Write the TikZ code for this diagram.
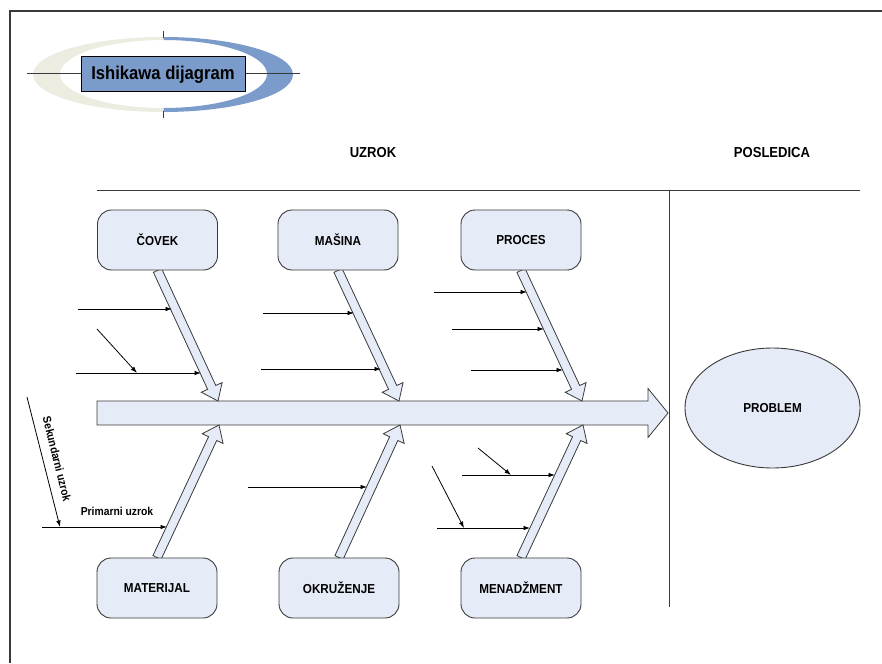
\documentclass[tikz,border=0pt]{standalone}
\usepackage{fontspec}
\setmainfont{Liberation Sans}[FakeStretch=0.9]
\usetikzlibrary{arrows.meta,calc,shapes.geometric,backgrounds}
\definecolor{fillblue}{HTML}{E6ECF7}
\definecolor{logoblue}{HTML}{7B9BCB}
\definecolor{beige}{HTML}{ECECE1}
\definecolor{edge}{HTML}{3A3A3A}
\newcommand\fsz[1]{\fontsize{#1}{#1}\selectfont\bfseries}
\newcommand\fatarrow[5]{%
 \draw[bonestyle] let \p1=(#4), \p2=(#5), \n1={atan2(\y2-\y1,\x2-\x1)} in
 ([shift={({\n1+90}:#1pt)}]\p1)
 -- ([shift={({\n1+90}:#1pt)},shift={({\n1+180}:#3pt)}]\p2)
 -- ([shift={({\n1+90}:#2pt)},shift={({\n1+180}:#3pt)}]\p2)
 -- (\p2)
 -- ([shift={({\n1-90}:#2pt)},shift={({\n1+180}:#3pt)}]\p2)
 -- ([shift={({\n1-90}:#1pt)},shift={({\n1+180}:#3pt)}]\p2)
 -- ([shift={({\n1-90}:#1pt)}]\p1) -- cycle;}
\tikzset{
 bonestyle/.style={draw=edge, fill=fillblue, line width=0.8pt, line join=miter},
 causebox/.style={draw=edge, fill=fillblue, rounded corners=14pt, minimum width=120pt,
   minimum height=60pt, line width=0.9pt, font=\fsz{13}, inner sep=0pt},
 frameline/.style={draw=edge, line width=1.2pt},
 rule/.style={draw=edge, line width=1pt},
 small/.style={draw=black, line width=0.8pt, -{Latex[length=6.5pt,width=4.5pt]}},
 heading/.style={font=\fsz{14.5}},
}
\begin{document}
\begin{tikzpicture}[x=1pt,y=-1pt]
\useasboundingbox (0,0) rectangle (882,663);
% frame
\draw[frameline] (10,663) -- (10,11) -- (882,11);
% logo
\begin{scope}
 \clip (0,0) rectangle (163.5,130);
 \fill[beige, even odd rule] (163,74.5) ellipse [x radius=130pt, y radius=37.5pt]
   (163.5,74) ellipse [x radius=103.5pt, y radius=34pt];
\end{scope}
\begin{scope}
 \clip (163.5,0) rectangle (320,130);
 \fill[logoblue, even odd rule] (163,74.5) ellipse [x radius=130pt, y radius=37.5pt]
   (163.5,74) ellipse [x radius=103.5pt, y radius=34pt];
\end{scope}
\draw[rule] (27,74) -- (300,74);
\draw[rule] (163,31) -- (163,38);
\draw[rule] (163,111) -- (163,118);
\node[draw=black, line width=1pt, fill=logoblue, minimum width=164pt, minimum height=35pt,
  inner sep=0pt, font=\fsz{18.5}] (title) at (163,74.5) {Ishikawa dijagram};
% headings
\node[heading] (uzrok) at (373,153) {UZROK};
\node[heading] (posledica) at (772,153) {POSLEDICA};
\draw[rule] (97,190) -- (860,190);
\draw[rule] (669,190) -- (669,607);
% boxes
\node[causebox] (covek) at (157.5,240) {ČOVEK};
\node[causebox] (masina) at (338,240) {MAŠINA};
\node[causebox] (proces) at (521,240) {PROCES};
\node[causebox] (materijal) at (157,588) {MATERIJAL};
\node[causebox] (okruzenje) at (339,588) {OKRUŽENJE};
\node[causebox] (menadzment) at (521,588) {MENADŽMENT};
\node[ellipse, draw=edge, fill=fillblue, line width=0.9pt, minimum width=175pt,
  minimum height=120pt, font=\fsz{13}] (problem) at (772.5,408) {PROBLEM};
% spine and bones
\coordinate (spineL) at (97,413);
\coordinate (spineR) at (668,413);
\coordinate (t1) at (218,401);
\coordinate (t2) at (399,401);
\coordinate (t3) at (582,401);
\coordinate (b1) at (219,425);
\coordinate (b2) at (400,425);
\coordinate (b3) at (583,425);
\begin{pgfonlayer}{background}
\fatarrow{12}{24.5}{20}{spineL}{spineR}
\fatarrow{4.5}{11.5}{15}{covek.south}{t1}
\fatarrow{4.5}{11.5}{15}{masina.south}{t2}
\fatarrow{4.5}{11.5}{15}{proces.south}{t3}
\fatarrow{4.5}{11.5}{15}{materijal.north}{b1}
\fatarrow{4.5}{11.5}{15}{okruzenje.north}{b2}
\fatarrow{4.5}{11.5}{15}{menadzment.north}{b3}
\end{pgfonlayer}
% small cause arrows
\coordinate (a1s) at (78,309);   \coordinate (a1e) at (172,309);
\coordinate (a2s) at (97,329);   \coordinate (a2e) at (137,373);
\coordinate (a3s) at (76,373);   \coordinate (a3e) at (201,373);
\coordinate (a4s) at (263,313);  \coordinate (a4e) at (354,313);
\coordinate (a5s) at (261,369);  \coordinate (a5e) at (381,369);
\coordinate (a6s) at (434,292);  \coordinate (a6e) at (527,292);
\coordinate (a7s) at (452,329);  \coordinate (a7e) at (544,329);
\coordinate (a8s) at (471,370);  \coordinate (a8e) at (563,370);
\coordinate (a9s) at (478,448);  \coordinate (a9e) at (511,475);
\coordinate (a10s) at (462,475); \coordinate (a10e) at (555,475);
\coordinate (a11s) at (432,466); \coordinate (a11e) at (464,528);
\coordinate (a12s) at (437,528); \coordinate (a12e) at (530,528);
\coordinate (a13s) at (248,487); \coordinate (a13e) at (367,487);
\coordinate (a14s) at (42,527);  \coordinate (a14e) at (167,527);
\coordinate (a15s) at (27,397);  \coordinate (a15e) at (60,527);
\foreach \i in {1,...,15} {\draw[small] (a\i s) -- (a\i e);}
\node[font=\fsz{11.5}] (prim) at (117,511) {Primarni uzrok};
\node[font=\fsz{11.5}, rotate=-76] (sek) at (57,459) {Sekundarni uzrok};
\end{tikzpicture}
\end{document}
